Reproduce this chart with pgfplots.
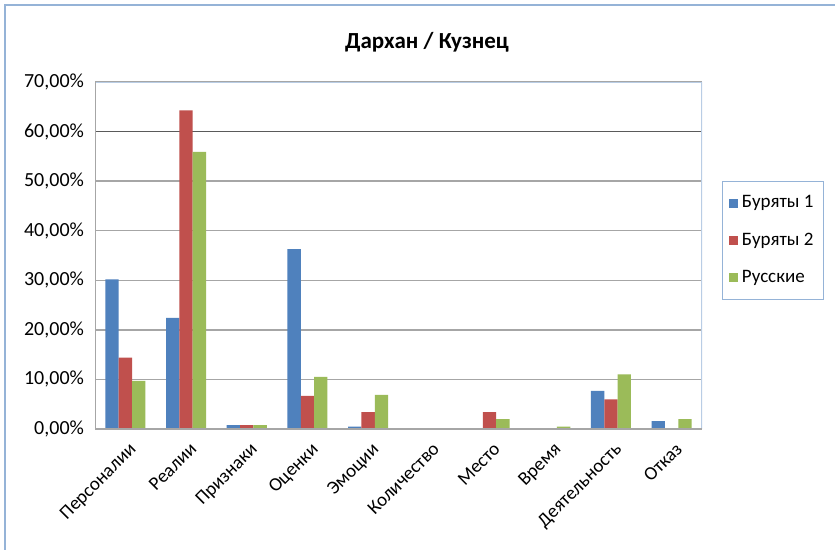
\documentclass[border=0pt]{standalone}
\usepackage{fontspec}
\setmainfont{Carlito}
\usepackage{pgfplots}
\pgfplotsset{compat=1.18}

\definecolor{sblue}{HTML}{4F81BD}
\definecolor{sred}{HTML}{C0504D}
\definecolor{sgreen}{HTML}{9BBB59}
\definecolor{frameblue}{HTML}{95B3D7}
\definecolor{plotblue}{HTML}{B9CDE5}
\definecolor{gridgray}{HTML}{A6A6A6}
\definecolor{darkgrid}{HTML}{5A5A5A}

% bar heights in percent, category index 0..9
\pgfplotstableread{
x buryat1 buryat2 russian
0 30.2 14.4 9.7
1 22.4 64.3 55.9
2 0.8 0.8 0.8
3 36.3 6.7 10.5
4 0.5 3.4 6.9
5 0 0 0
6 0 3.4 2.0
7 0 0 0.5
8 7.7 6.0 11.0
9 1.6 0 2.0
}\datatable

\begin{document}
\begin{tikzpicture}
% chart area (1 px of the reference = 0.5pt)
\path[use as bounding box, fill=white] (0,0) rectangle (417.5pt,275pt);
\draw[frameblue, line width=0.8pt] (2.5pt,0) -- (2.5pt,272.5pt) -- (417.5pt,272.5pt);
\node[font=\bfseries\fontsize{11.5}{13}\selectfont] at (213.5pt,254pt) {Дархан / Кузнец};

\begin{axis}[
    at={(47.5pt,60.5pt)}, anchor=south west,
    scale only axis,
    width=303.5pt, height=173.5pt,
    ybar, bar width=0.22,
    xmin=-0.5, xmax=9.5,
    ymin=0, ymax=70,
    xtick={0,...,9},
    xticklabels={Персоналии,Реалии,Признаки,Оценки,Эмоции,Количество,Место,Время,Деятельность,Отказ},
    x tick label style={rotate=45, anchor=north east, yshift=-2pt, font=\fontsize{9.5}{10}\selectfont},
    ytick={0,10,...,70},
    yticklabel={\pgfmathprintnumber[fixed,fixed zerofill,precision=2,use comma]{\tick}\%},
    y tick label style={xshift=-2pt, font=\fontsize{10}{11}\selectfont},
    /pgf/number format/assume math mode=true,
    major tick length=0pt,
    ymajorgrids,
    grid style={gridgray, line width=0.7pt},
    extra y ticks={60},
    extra y tick labels={},
    extra y tick style={grid style={darkgrid, line width=0.7pt}},
    axis line style={draw=none},
    legend style={at={(1.033,0.715)}, anchor=north west,
        draw=frameblue, line width=0.7pt,
        font=\fontsize{9.5}{10}\selectfont,
        row sep=7pt, inner xsep=3pt, inner ysep=5pt},
    legend cell align=left,
    legend image code/.code={\fill[#1] (0pt,-2.3pt) rectangle (4.6pt,2.3pt);},
]
\addplot[fill=sblue, draw=none, bar shift=-0.22] table[x=x, y=buryat1] {\datatable};
\addplot[fill=sred, draw=none, bar shift=0] table[x=x, y=buryat2] {\datatable};
\addplot[fill=sgreen, draw=none, bar shift=0.22] table[x=x, y=russian] {\datatable};
\legend{Буряты 1, Буряты 2, Русские}
\draw[plotblue, line width=0.7pt] (rel axis cs:0,1) -- (rel axis cs:1,1) -- (rel axis cs:1,0);
\draw[gridgray, line width=0.7pt] (rel axis cs:0,1) -- (rel axis cs:0,0) -- (rel axis cs:1,0);
\end{axis}
\end{tikzpicture}
\end{document}
